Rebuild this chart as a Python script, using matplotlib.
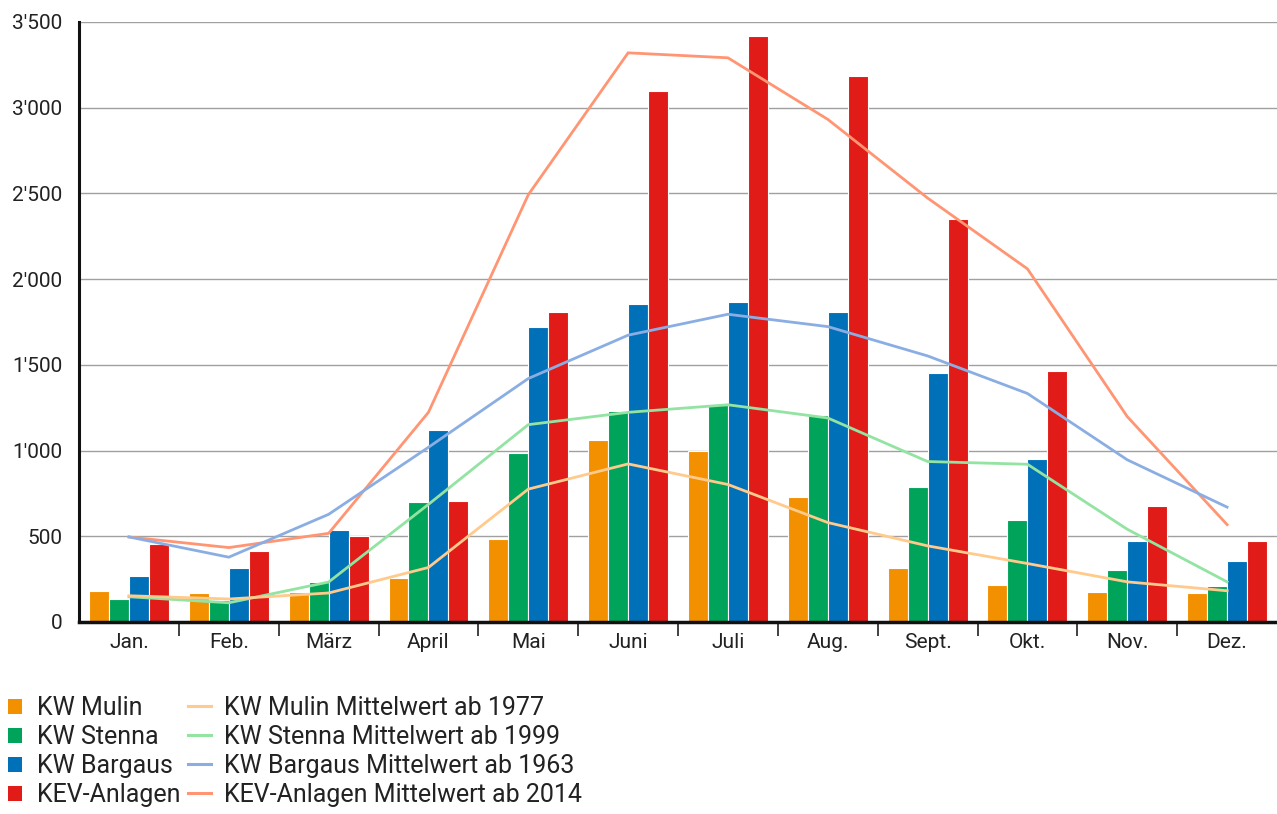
import numpy as np
import matplotlib
matplotlib.use('Agg')
from matplotlib import pyplot as plt
from matplotlib.ticker import FuncFormatter, FixedLocator
from matplotlib.lines import Line2D
from matplotlib.patches import Patch

plt.rcParams['font.family'] = ['Roboto', 'DejaVu Sans']

monate = ['Jan.', 'Feb.', 'März', 'April', 'Mai', 'Juni', 'Juli', 'Aug.', 'Sept.', 'Okt.', 'Nov.', 'Dez.']

# Produktion je Monat (Balken)
mulin   = [180, 169, 174, 258, 484, 1064, 1000, 727, 316, 215, 174, 169]
stenna  = [134, 126, 233, 700, 983, 1233, 1267, 1209, 785, 593, 302, 209]
bargaus = [267, 314, 535, 1122, 1721, 1855, 1866, 1808, 1453, 953, 471, 355]
kev     = [453, 413, 500, 705, 1808, 3099, 3419, 3186, 2349, 1465, 674, 471]

# Mittelwerte (Linien)
mulin_mw   = [153, 134, 169, 318, 775, 922, 802, 580, 444, 341, 234, 182]
stenna_mw  = [147, 112, 233, 686, 1151, 1223, 1267, 1190, 936, 920, 541, 234]
bargaus_mw = [496, 378, 628, 1019, 1420, 1673, 1795, 1723, 1552, 1333, 946, 670]
kev_mw     = [496, 434, 517, 1223, 2492, 3320, 3291, 2932, 2473, 2060, 1198, 568]

bar_namen = ['KW Mulin', 'KW Stenna', 'KW Bargaus', 'KEV-Anlagen']
line_namen = ['KW Mulin Mittelwert ab 1977', 'KW Stenna Mittelwert ab 1999',
              'KW Bargaus Mittelwert ab 1963', 'KEV-Anlagen Mittelwert ab 2014']
bar_farben = ['#F39000', '#00A35A', '#0070B8', '#E11B17']
line_farben = ['#FFCA8C', '#93E3A2', '#8AAEE3', '#FF9573']

fig = plt.figure(figsize=(12.77, 8.14), dpi=100)
ax = fig.add_axes([0.0619, 0.2359, 0.9381, 0.7371])

x = np.arange(len(monate))
breite = 0.2
for i, (werte, farbe) in enumerate(zip([mulin, stenna, bargaus, kev], bar_farben)):
    ax.bar(x + (i - 1.5) * breite, werte, breite, color=farbe,
           edgecolor='white', linewidth=0.8, zorder=2)

for werte, farbe in zip([kev_mw, bargaus_mw, stenna_mw, mulin_mw], line_farben[::-1]):
    ax.plot(x, werte, color=farbe, lw=2, zorder=3, solid_joinstyle='miter')

ax.set_xlim(-0.5, 11.5)
ax.set_ylim(0, 3500)
ax.set_yticks(np.arange(0, 3501, 500))
ax.yaxis.set_major_formatter(FuncFormatter(lambda v, p: f'{int(v):,}'.replace(',', "'")))
ax.grid(axis='y', color='#a0a0a0', lw=1, zorder=0)
ax.set_axisbelow(True)

ax.set_xticks(x)
ax.set_xticklabels(monate)
ax.xaxis.set_minor_locator(FixedLocator(np.arange(0.5, 11.5, 1)))
ax.tick_params(axis='x', which='major', length=0, pad=8, labelsize=15, labelcolor='#222222')
ax.tick_params(axis='x', which='minor', length=10, width=1.3, direction='out', color='#333333')
ax.tick_params(axis='y', length=0, pad=12, labelsize=15, labelcolor='#222222')

for s in ['top', 'right']:
    ax.spines[s].set_visible(False)
ax.spines['left'].set_linewidth(2.2)
ax.spines['bottom'].set_linewidth(2.5)
ax.spines['left'].set_color('#111111')
ax.spines['bottom'].set_color('#111111')

h1 = [Patch(facecolor=c, edgecolor='none') for c in bar_farben]
leg1 = fig.legend(h1, bar_namen, loc='upper left', bbox_to_anchor=(0.0063, 0.145),
                  frameon=False, fontsize=18, handlelength=0.56, handleheight=0.56,
                  handletextpad=0.6, labelspacing=0.2, borderaxespad=0, borderpad=0)
for t in leg1.get_texts():
    t.set_color('#222222')

h2 = [Line2D([0], [0], color=c, lw=2.2) for c in line_farben]
leg2 = fig.legend(h2, line_namen, loc='upper left', bbox_to_anchor=(0.147, 0.145),
                  frameon=False, fontsize=18, handlelength=0.95,
                  handletextpad=0.5, labelspacing=0.2, borderaxespad=0, borderpad=0)
for t in leg2.get_texts():
    t.set_color('#222222')

fig.savefig('out.png', dpi=100)
